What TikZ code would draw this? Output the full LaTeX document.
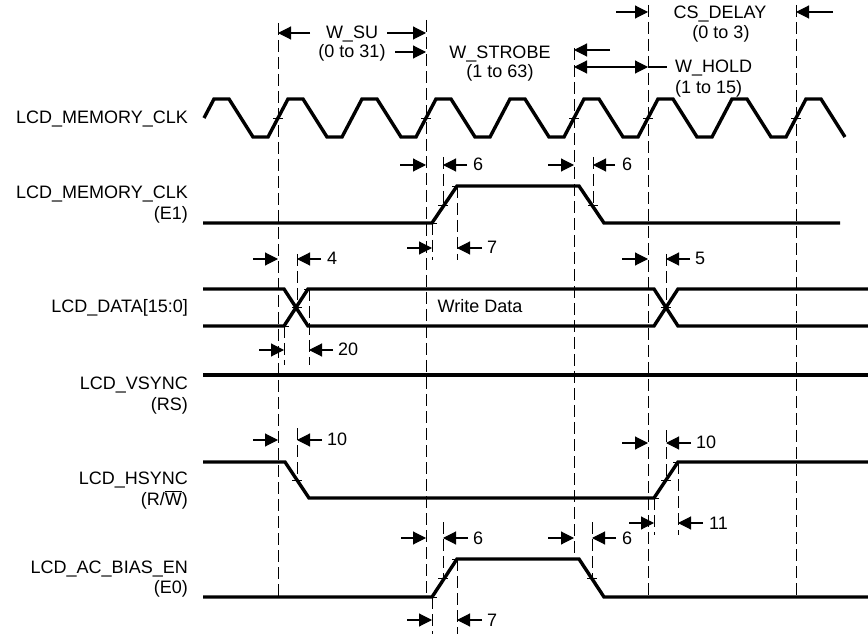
\documentclass[tikz,border=0pt]{standalone}
\usepackage{fontspec}
\setmainfont{Liberation Sans}
\usetikzlibrary{arrows.meta}
\newcommand\tickat[2]{\draw[tk] (#1-5,#2)--(#1+5,#2);}
\begin{document}
\begin{tikzpicture}[x=1pt,y=-1pt,
  sig/.style={line width=3.4pt},
  vd/.style={line width=0.9pt, dash pattern=on 12pt off 5pt},
  tk/.style={line width=0.8pt},
  dim/.style={line width=1.1pt, -{Triangle[length=13pt,width=13pt]}},
  ddim/.style={line width=1.1pt, {Triangle[length=13pt,width=13pt]}-{Triangle[length=13pt,width=13pt]}},
  txt/.style={font=\fontsize{18}{21}\selectfont, inner sep=0pt},
  lbl/.style={txt, anchor=base east},
  num/.style={txt, anchor=base west}
]
\useasboundingbox (0,0) rectangle (868,636);

% ---------- signal labels ----------
\node[lbl] (l1) at (188,124) {LCD\_MEMORY\_CLK};
\node[lbl] (l2) at (188,199) {LCD\_MEMORY\_CLK};
\node[lbl] (l2b) at (188,220) {(E1)};
\node[lbl] (l3) at (188,313) {LCD\_DATA[15:0]};
\node[lbl] (l4) at (188,389) {LCD\_VSYNC};
\node[lbl] (l4b) at (188,410) {(RS)};
\node[lbl] (l5) at (188,484) {LCD\_HSYNC};
\node[lbl] (l5b) at (188,505) {(R/$\overline{\hbox{W}}$)};
\node[lbl] (l6) at (188,573) {LCD\_AC\_BIAS\_EN};
\node[lbl] (l6b) at (188,593) {(E0)};

% ---------- main dashed lines ----------
\draw[vd] (278,23) -- (278,597);
\draw[vd] (426,20) -- (426,597);
\draw[vd] (574,48) -- (574,559);
\draw[vd] (648,5) -- (648,597);
\draw[vd] (796,5) -- (796,597);

% ---------- secondary dashed lines ----------
\draw[vd] (432,223) -- (432,260);
\draw[vd] (443,157) -- (443,207);
\draw[vd] (457,186) -- (457,260);
\draw[vd] (593,157) -- (593,207);
\draw[vd] (297,254) -- (297,308);
\draw[vd] (284,326) -- (284,365);
\draw[vd] (309,289) -- (309,365);
\draw[vd] (666,254) -- (666,308);
\draw[vd] (297,428) -- (297,482);
\draw[vd] (666,430) -- (666,482);
\draw[vd] (654,498) -- (654,535);
\draw[vd] (678,462) -- (678,535);
\draw[vd] (432,597) -- (432,634);
\draw[vd] (443,522) -- (443,580);
\draw[vd] (457,559) -- (457,634);
\draw[vd] (592,522) -- (592,580);

% ---------- signals ----------
\draw[sig] (204,118) -- (214,99)
  \foreach \c in {204,278,352,426,500,574,648,722} { -- (\c+25,99) -- (\c+49,137) -- (\c+64,137) -- (\c+84,99) }
  -- (821,99) -- (845,137);
\draw[sig] (203,223) -- (432,223) -- (457,186) -- (579,186) -- (604,223) -- (840,223);
\draw[sig] (203,289) -- (284,289) -- (308,326) -- (654,326) -- (678,289) -- (868,289);
\draw[sig] (203,326) -- (284,326) -- (308,289) -- (654,289) -- (678,326) -- (868,326);
\draw[sig] (203,375) -- (868,375);
\draw[sig] (203,462) -- (285,462) -- (309,498) -- (654,498) -- (678,462) -- (868,462);
\draw[sig] (203,597) -- (432,597) -- (457,559) -- (579,559) -- (604,597) -- (868,597);

\node[txt, anchor=base] (wd) at (480,313) {Write Data};

% ---------- crossing ticks ----------
\foreach \x in {278,426,574,648,796} { \tickat{\x}{118} }
\tickat{443}{205} \tickat{593}{205} \tickat{432}{223} \tickat{457}{186}
\tickat{297}{307} \tickat{284}{326} \tickat{309}{289} \tickat{666}{307}
\tickat{297}{480} \tickat{666}{480} \tickat{654}{498} \tickat{678}{462}
\tickat{443}{578} \tickat{592}{578} \tickat{432}{597} \tickat{457}{559}

% ---------- top annotations ----------
\draw[dim] (310,33) -- (278,33);
\node[txt, anchor=base] (wsu) at (352,39) {W\_SU};
\draw[dim] (387,33) -- (426,33);
\node[txt, anchor=base] (wsu2) at (352,58) {(0 to 31)};
\draw[dim] (395,52) -- (426,52);

\node[txt, anchor=base] (wst) at (500,59) {W\_STROBE};
\node[txt, anchor=base] (wst2) at (500,78) {(1 to 63)};

\draw[dim] (610,50) -- (574,50);
\draw[ddim] (574,67) -- (648,67);
\draw[line width=1.1pt] (648,67) -- (667,67);
\node[txt, anchor=base west] (wh) at (675,73) {W\_HOLD};
\node[txt, anchor=base west] (wh2) at (675,94) {(1 to 15)};

\draw[dim] (616,12) -- (648,12);
\node[txt, anchor=base] (csd) at (720,19) {CS\_DELAY};
\node[txt, anchor=base] (csd2) at (721,39) {(0 to 3)};
\draw[dim] (833,12) -- (796,12);

% ---------- E1 timing ----------
\draw[dim] (400,165) -- (426,165);
\draw[dim] (467,165) -- (443,165);
\node[num] at (473,171) {6};
\draw[dim] (548,165) -- (574,165);
\draw[dim] (615,165) -- (593,165);
\node[num] at (622,171) {6};
\draw[dim] (407,248) -- (432,248);
\draw[dim] (482,248) -- (457,248);
\node[num] at (487,254) {7};

% ---------- data timing ----------
\draw[dim] (253,259) -- (278,259);
\draw[dim] (321,259) -- (297,259);
\node[num] at (327,265) {4};
\draw[dim] (259,350) -- (284,350);
\draw[dim] (333,350) -- (309,350);
\node[num] at (338,356) {20};
\draw[dim] (622,259) -- (648,259);
\draw[dim] (690,259) -- (666,259);
\node[num] at (695,265) {5};

% ---------- HSYNC timing ----------
\draw[dim] (253,440) -- (278,440);
\draw[dim] (322,440) -- (297,440);
\node[num] at (327,446) {10};
\draw[dim] (622,443) -- (648,443);
\draw[dim] (691,443) -- (666,443);
\node[num] at (696,449) {10};
\draw[dim] (629,523) -- (654,523);
\draw[dim] (703,523) -- (678,523);
\node[num] at (709,529) {11};

% ---------- AC_BIAS timing ----------
\draw[dim] (401,538) -- (426,538);
\draw[dim] (468,538) -- (443,538);
\node[num] at (473,544) {6};
\draw[dim] (548,538) -- (574,538);
\draw[dim] (616,538) -- (592,538);
\node[num] at (622,544) {6};
\draw[dim] (407,620) -- (432,620);
\draw[dim] (482,620) -- (457,620);
\node[num] at (487,626) {7};
\end{tikzpicture}
\end{document}
